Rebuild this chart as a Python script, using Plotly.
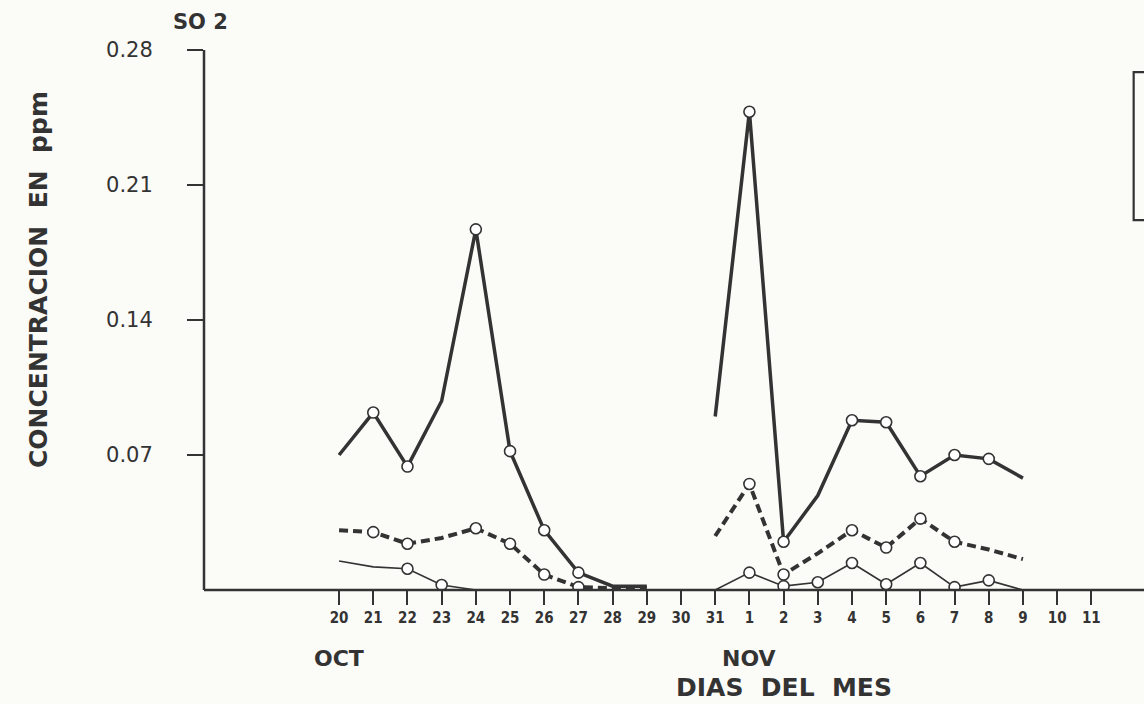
import plotly.graph_objects as go

days = ["20", "21", "22", "23", "24", "25", "26", "27", "28", "29", "30", "31",
        "1", "2", "3", "4", "5", "6", "7", "8", "9", "10", "11"]

serie_maxima = [0.070, 0.092, 0.064, 0.098, 0.187, 0.072, 0.031, 0.009, 0.002, 0.002, None, 0.090,
                0.248, 0.025, 0.049, 0.088, 0.087, 0.059, 0.070, 0.068, 0.058, None, None]
serie_media = [0.031, 0.030, 0.024, 0.027, 0.032, 0.024, 0.008, 0.0015, 0.001, 0.001, None, 0.028,
               0.055, 0.008, 0.019, 0.031, 0.022, 0.037, 0.025, 0.021, 0.016, None, None]
serie_minima = [0.015, 0.012, 0.011, 0.0026, 0.0, None, None, None, None, None, None, 0.0,
                0.009, 0.002, 0.004, 0.014, 0.003, 0.014, 0.0015, 0.005, 0.0, None, None]

marcado_maxima = [0, 1, 1, 0, 1, 1, 1, 1, 0, 0, 0, 0, 1, 1, 0, 1, 1, 1, 1, 1, 0, 0, 0]
marcado_media = [0, 1, 1, 0, 1, 1, 1, 1, 0, 0, 0, 0, 1, 1, 0, 1, 1, 1, 1, 0, 0, 0, 0]
marcado_minima = [0, 0, 1, 1, 0, 0, 0, 0, 0, 0, 0, 0, 1, 1, 1, 1, 1, 1, 1, 1, 0, 0, 0]

yticks = [0.07, 0.14, 0.21, 0.28]
yticklabels = ["0.07", "0.14", "0.21", "0.28"]

INK = "#333333"
BG = "#fbfbf8"
x_idx = list(range(len(days)))

fig = go.Figure()

def add_series(values, marks, width, dash):
    fig.add_trace(go.Scatter(
        x=x_idx, y=values, mode="lines+markers", connectgaps=False,
        line=dict(color=INK, width=width, dash=dash),
        marker=dict(symbol="circle", size=[11 if m else 0 for m in marks], opacity=1,
                    color="#ffffff", line=dict(color=INK, width=1.6)),
        showlegend=False, hoverinfo="skip"))

add_series(serie_minima, marcado_minima, 1.6, "solid")
add_series(serie_media, marcado_media, 4, "9px,5px")
add_series(serie_maxima, marcado_maxima, 3.5, "solid")

fig.update_layout(
    width=1144, height=704,
    margin=dict(l=204, r=0, t=50, b=114),
    paper_bgcolor=BG, plot_bgcolor=BG,
    font=dict(family="DejaVu Sans", color=INK),
    xaxis=dict(range=[-3.95, 23.54], tickmode="array", tickvals=x_idx, ticktext=days,
               showgrid=False, zeroline=False, showline=False,
               ticks="outside", ticklen=14, tickwidth=2, tickcolor=INK,
               tickfont=dict(family="DejaVu Sans Condensed", size=15, color=INK, weight="bold")),
    yaxis=dict(range=[0, 0.28], tickmode="array", tickvals=yticks, ticktext=yticklabels,
               showgrid=False, zeroline=False, showline=False,
               ticks="outside", ticklen=16, tickwidth=2, tickcolor=INK,
               ticklabelstandoff=30,
               tickfont=dict(family="DejaVu Sans", size=21, color=INK)),
)

# axis lines
fig.add_shape(type="line", xref="paper", yref="paper", x0=0, x1=1.02, y0=0, y1=0,
              line=dict(color=INK, width=2.5))
fig.add_shape(type="line", xref="paper", yref="paper", x0=0, x1=0, y0=0, y1=1,
              line=dict(color=INK, width=2.5))

# legend box (cut off at the right edge)
fig.add_shape(type="rect", xref="paper", yref="paper", x0=0.989, x1=1.05, y0=0.685, y1=0.959,
              line=dict(color=INK, width=2.2), fillcolor="rgba(0,0,0,0)")

fig.add_annotation(xref="paper", yref="paper", x=-0.004, y=1.0, yshift=28,
                   text="SO 2", showarrow=False, xanchor="center", yanchor="middle",
                   font=dict(family="DejaVu Sans", size=21, color=INK, weight="bold"))
fig.add_annotation(xref="paper", yref="paper", x=-0.176, y=0.575,
                   text="CONCENTRACION  EN  ppm", textangle=-90, showarrow=False,
                   xanchor="center", yanchor="middle",
                   font=dict(family="DejaVu Sans", size=25, color=INK, weight="bold"))
fig.add_annotation(xref="x", yref="paper", x=0, y=0, yshift=-68,
                   text="OCT", showarrow=False, xanchor="center", yanchor="middle",
                   font=dict(family="DejaVu Sans", size=22, color=INK, weight="bold"))
fig.add_annotation(xref="x", yref="paper", x=12, y=0, yshift=-68,
                   text="NOV", showarrow=False, xanchor="center", yanchor="middle",
                   font=dict(family="DejaVu Sans", size=22, color=INK, weight="bold"))
fig.add_annotation(xref="x", yref="paper", x=13, y=0, yshift=-97,
                   text="DIAS  DEL  MES", showarrow=False, xanchor="center", yanchor="middle",
                   font=dict(family="DejaVu Sans", size=25, color=INK, weight="bold"))

fig.write_html("out.html")
